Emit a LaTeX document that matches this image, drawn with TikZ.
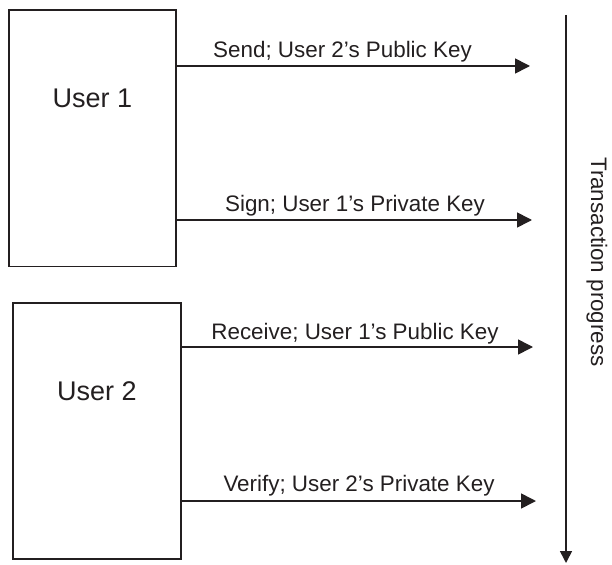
\documentclass[tikz,border=0pt]{standalone}
\usepackage{fontspec}
\setmainfont{Liberation Sans}
\usetikzlibrary{arrows.meta}
\definecolor{ink}{HTML}{231F20}
\tikzset{
  userbox/.style={draw=ink, line width=1.6pt, inner sep=0pt},
  usertext/.style={text=ink, font=\fontsize{27}{32}\selectfont, inner sep=0pt},
  steplabel/.style={text=ink, font=\fontsize{22.4}{27}\selectfont, inner sep=0pt, anchor=base},
  flow/.style={draw=ink, line width=1.6pt, -{Triangle[length=15pt, width=15pt]}},
  timeline/.style={draw=ink, line width=1.6pt, -{Triangle[length=12pt, width=12pt]}}
}
\begin{document}
\begin{tikzpicture}[x=1pt, y=-1pt]
  \useasboundingbox (0,0) rectangle (612,564);

  % the two parties
  \node[userbox, minimum width=167pt, minimum height=256pt] (u1) at (92.5,138.3) {};
  \node[usertext] (u1t) at (92.5,98) {User 1};
  \node[userbox, minimum width=168pt, minimum height=256pt] (u2) at (97,431) {};
  \node[usertext] (u2t) at (97,391) {User 2};

  % arrow end points
  \coordinate (sendEnd) at (530,66);
  \coordinate (signEnd) at (532,220);
  \coordinate (recvEnd) at (533,347);
  \coordinate (verEnd) at (536,501);

  % steps of the transaction
  \draw[flow] (u1.east |- sendEnd) -- (sendEnd);
  \node[steplabel] (sendL) at (342.5,58) {Send; User 2’s Public Key};
  \draw[flow] (u1.east |- signEnd) -- (signEnd);
  \node[steplabel] (signL) at (355,211) {Sign; User 1’s Private Key};
  \draw[flow] (u2.east |- recvEnd) -- (recvEnd);
  \node[steplabel] (recvL) at (355,339) {Receive; User 1’s Public Key};
  \draw[flow] (u2.east |- verEnd) -- (verEnd);
  \node[steplabel] (verL) at (359,491) {Verify; User 2’s Private Key};

  % time axis
  \coordinate (tTop) at (566,15);
  \coordinate (tBot) at (566,563);
  \draw[timeline] (tTop) -- (tBot);
  \node[text=ink, font=\fontsize{22.4}{27}\selectfont, inner sep=0pt, rotate=-90] (prog) at (597,262) {Transaction progress};
\end{tikzpicture}
\end{document}
